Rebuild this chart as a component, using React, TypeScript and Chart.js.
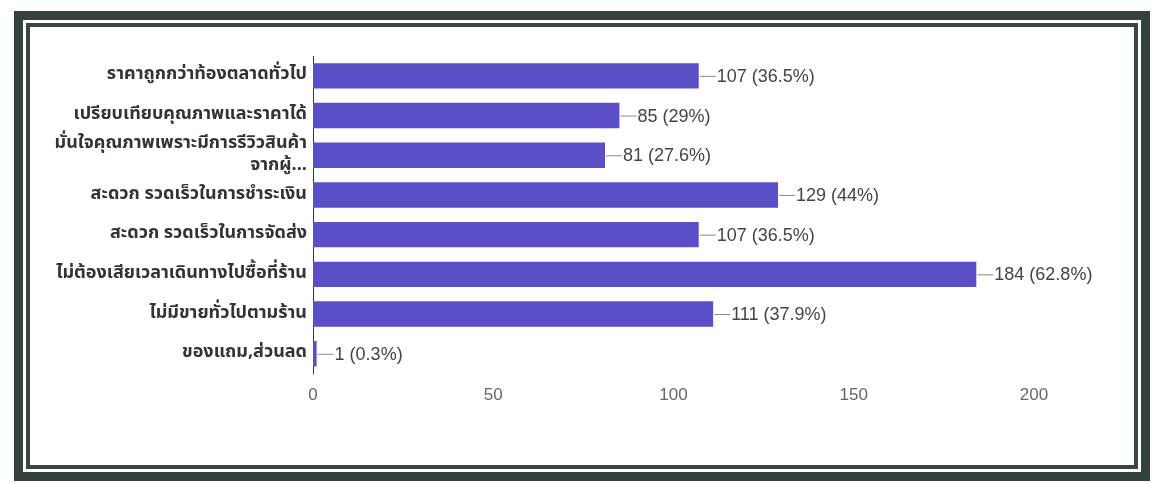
import React, { useEffect, useRef } from "react";
import { Chart, registerables } from "chart.js";

Chart.register(...registerables);

const categories: (string | string[])[] = [
  "ราคาถูกกว่าท้องตลาดทั่วไป",
  "เปรียบเทียบคุณภาพและราคาได้",
  ["มั่นใจคุณภาพเพราะมีการรีวิวสินค้า", "จากผู้..."],
  "สะดวก รวดเร็วในการชำระเงิน",
  "สะดวก รวดเร็วในการจัดส่ง",
  "ไม่ต้องเสียเวลาเดินทางไปซื้อที่ร้าน",
  "ไม่มีขายทั่วไปตามร้าน",
  "ของแถม,ส่วนลด",
];
const counts = [107, 85, 81, 129, 107, 184, 111, 1];
const percents = ["36.5%", "29%", "27.6%", "44%", "36.5%", "62.8%", "37.9%", "0.3%"];
const xTicks = [0, 50, 100, 150, 200];

const THAI_FONT = "Tahoma, 'Noto Sans Thai', 'DejaVu Sans', Arial, sans-serif";
const NUM_FONT = "Arial, 'Liberation Sans', sans-serif";

const valueLabels = {
  id: "valueLabels",
  afterDatasetsDraw(chart: any) {
    const ctx = chart.ctx;
    const meta = chart.getDatasetMeta(0);
    ctx.save();
    ctx.font = `18px ${NUM_FONT}`;
    ctx.textBaseline = "middle";
    ctx.textAlign = "left";
    meta.data.forEach((bar: any, i: number) => {
      const x = bar.x;
      const y = bar.y;
      ctx.strokeStyle = "#888";
      ctx.lineWidth = 1;
      ctx.beginPath();
      ctx.moveTo(x + 1, y + 0.5);
      ctx.lineTo(x + 17, y + 0.5);
      ctx.stroke();
      ctx.fillStyle = "#444";
      ctx.fillText(`${counts[i]} (${percents[i]})`, x + 18, y + 1);
    });
    ctx.restore();
  },
};

export default function App() {
  const ref = useRef<HTMLCanvasElement>(null);
  useEffect(() => {
    if (!ref.current) return;
    const chart = new Chart(ref.current, {
      type: "bar",
      data: {
        labels: categories,
        datasets: [
          {
            data: counts,
            backgroundColor: "#5a4fc6",
            borderWidth: 0,
            barPercentage: 0.64,
            categoryPercentage: 1,
          },
        ],
      },
      options: {
        indexAxis: "y",
        animation: false,
        responsive: false,
        maintainAspectRatio: false,
        layout: { padding: { top: 26, right: 102, bottom: 47, left: 0 } },
        plugins: { legend: { display: false }, tooltip: { enabled: false } },
        scales: {
          x: {
            min: 0,
            max: 200,
            afterBuildTicks: (axis: any) => {
              axis.ticks = xTicks.map((v) => ({ value: v }));
            },
            grid: { display: false, drawTicks: false },
            border: { display: false },
            ticks: {
              color: "#666",
              font: { family: NUM_FONT, size: 17 },
              padding: 12,
            },
          },
          y: {
            grid: { display: false, drawTicks: true, tickLength: 4, color: "#333" },
            border: { display: true, color: "#333", width: 1 },
            ticks: {
              color: "#333",
              font: { family: THAI_FONT, size: 18, weight: "bold", lineHeight: 1.2 },
              padding: 2,
              autoSkip: false,
            },
            afterFit: (axis: any) => {
              axis.width = 277;
            },
          },
        },
      },
      plugins: [valueLabels],
    });
    return () => chart.destroy();
  }, []);

  return (
    <div>
      <div
        style={{
          position: "fixed",
          left: 14,
          top: 11,
          width: 1136,
          height: 470,
          boxSizing: "border-box",
          border: "9px solid #34423a",
          background: "#fff",
        }}
      >
        <div
          style={{
            position: "absolute",
            left: 3,
            top: 3,
            right: 3,
            bottom: 3,
            border: "4px solid #3a4740",
            background: "#fff",
          }}
        />
      </div>
      <canvas
        ref={ref}
        width={1100}
        height={435}
        style={{ position: "fixed", left: 36, top: 30, width: 1100, height: 435 }}
      />
    </div>
  );
}
